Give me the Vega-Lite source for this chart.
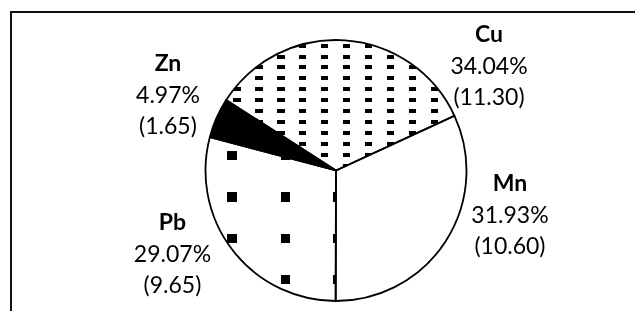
{
  "$schema": "https://vega.github.io/schema/vega-lite/v6.json",
  "width": 650,
  "height": 317,
  "autosize": "none",
  "padding": {"left": 11, "top": 12, "right": -26, "bottom": -18},
  "background": "white",
  "view": {"stroke": "#111111", "strokeWidth": 2, "fill": "white"},
  "config": {"view": {"stroke": "#111111", "strokeWidth": 2}},
  "data": {"values": [
    {"metal": "Cu", "value": 11.30},
    {"metal": "Mn", "value": 10.60},
    {"metal": "Pb", "value": 9.65},
    {"metal": "Zn", "value": 1.65}
  ]},
  "transform": [
    {"stack": "value", "groupby": [], "sort": [{"field": "value", "order": "descending"}], "as": ["v0", "v1"]},
    {"joinaggregate": [{"op": "sum", "field": "value", "as": "total"}]},
    {"calculate": "(datum.v0 + datum.v1) / 2", "as": "mid"},
    {"calculate": "datum.value / datum.total", "as": "share"},
    {"calculate": "'(' + format(datum.value, '.2f') + ')'", "as": "paren"}
  ],
  "layer": [
    {
      "mark": {"type": "arc", "outerRadius": 130.5},
      "encoding": {
        "theta": {"field": "v0", "type": "quantitative", "scale": {"domain": [0, 33.2], "range": [-1.00059, 5.2826]}},
        "theta2": {"field": "v1"},
        "fill": {"condition": {"test": "datum.metal === 'Zn'", "value": "black"}, "value": "white"}
      }
    },
    {
      "transform": [{"filter": "datum.metal === 'Cu'"}],
      "mark": {"type": "arc", "outerRadius": 130.5, "fill": {
        "gradient": "linear", "x1": 0, "y1": 0, "x2": 1, "y2": 0,
        "stops": [
          {"offset": 0, "color": "white"},
          {"offset": 0.03065, "color": "white"}, {"offset": 0.03065, "color": "black"}, {"offset": 0.06349, "color": "black"}, {"offset": 0.06349, "color": "white"},
          {"offset": 0.12675, "color": "white"}, {"offset": 0.12675, "color": "black"}, {"offset": 0.15959, "color": "black"}, {"offset": 0.15959, "color": "white"},
          {"offset": 0.22285, "color": "white"}, {"offset": 0.22285, "color": "black"}, {"offset": 0.25569, "color": "black"}, {"offset": 0.25569, "color": "white"},
          {"offset": 0.31896, "color": "white"}, {"offset": 0.31896, "color": "black"}, {"offset": 0.35179, "color": "black"}, {"offset": 0.35179, "color": "white"},
          {"offset": 0.41506, "color": "white"}, {"offset": 0.41506, "color": "black"}, {"offset": 0.44790, "color": "black"}, {"offset": 0.44790, "color": "white"},
          {"offset": 0.51117, "color": "white"}, {"offset": 0.51117, "color": "black"}, {"offset": 0.54401, "color": "black"}, {"offset": 0.54401, "color": "white"},
          {"offset": 0.60727, "color": "white"}, {"offset": 0.60727, "color": "black"}, {"offset": 0.64011, "color": "black"}, {"offset": 0.64011, "color": "white"},
          {"offset": 0.70338, "color": "white"}, {"offset": 0.70338, "color": "black"}, {"offset": 0.73621, "color": "black"}, {"offset": 0.73621, "color": "white"},
          {"offset": 0.79947, "color": "white"}, {"offset": 0.79947, "color": "black"}, {"offset": 0.83231, "color": "black"}, {"offset": 0.83231, "color": "white"},
          {"offset": 0.89558, "color": "white"}, {"offset": 0.89558, "color": "black"}, {"offset": 0.92842, "color": "black"}, {"offset": 0.92842, "color": "white"},
          {"offset": 0.99168, "color": "white"}, {"offset": 0.99168, "color": "black"}, {"offset": 1, "color": "black"}
        ]}},
      "encoding": {
        "theta": {"field": "v0", "type": "quantitative", "scale": {"domain": [0, 33.2], "range": [-1.00059, 5.2826]}},
        "theta2": {"field": "v1"}
      }
    },
    {
      "transform": [{"filter": "datum.metal === 'Cu'"}],
      "mark": {"type": "arc", "outerRadius": 130.5, "blend": "lighten", "fill": {
        "gradient": "linear", "x1": 0, "y1": 0, "x2": 0, "y2": 1,
        "stops": [
          {"offset": 0, "color": "white"},
          {"offset": 0.02835, "color": "white"}, {"offset": 0.02835, "color": "black"}, {"offset": 0.05900, "color": "black"}, {"offset": 0.05900, "color": "white"},
          {"offset": 0.11188, "color": "white"}, {"offset": 0.11188, "color": "black"}, {"offset": 0.14253, "color": "black"}, {"offset": 0.14253, "color": "white"},
          {"offset": 0.19540, "color": "white"}, {"offset": 0.19540, "color": "black"}, {"offset": 0.22605, "color": "black"}, {"offset": 0.22605, "color": "white"},
          {"offset": 0.27893, "color": "white"}, {"offset": 0.27893, "color": "black"}, {"offset": 0.30958, "color": "black"}, {"offset": 0.30958, "color": "white"},
          {"offset": 0.36245, "color": "white"}, {"offset": 0.36245, "color": "black"}, {"offset": 0.39310, "color": "black"}, {"offset": 0.39310, "color": "white"},
          {"offset": 0.44598, "color": "white"}, {"offset": 0.44598, "color": "black"}, {"offset": 0.47663, "color": "black"}, {"offset": 0.47663, "color": "white"},
          {"offset": 0.52950, "color": "white"}, {"offset": 0.52950, "color": "black"}, {"offset": 0.56015, "color": "black"}, {"offset": 0.56015, "color": "white"},
          {"offset": 0.61303, "color": "white"}, {"offset": 0.61303, "color": "black"}, {"offset": 0.64368, "color": "black"}, {"offset": 0.64368, "color": "white"},
          {"offset": 0.69655, "color": "white"}, {"offset": 0.69655, "color": "black"}, {"offset": 0.72720, "color": "black"}, {"offset": 0.72720, "color": "white"},
          {"offset": 0.78008, "color": "white"}, {"offset": 0.78008, "color": "black"}, {"offset": 0.81073, "color": "black"}, {"offset": 0.81073, "color": "white"},
          {"offset": 0.86360, "color": "white"}, {"offset": 0.86360, "color": "black"}, {"offset": 0.89425, "color": "black"}, {"offset": 0.89425, "color": "white"},
          {"offset": 0.94713, "color": "white"}, {"offset": 0.94713, "color": "black"}, {"offset": 0.97778, "color": "black"}, {"offset": 0.97778, "color": "white"},
          {"offset": 1, "color": "white"}
        ]}},
      "encoding": {
        "theta": {"field": "v0", "type": "quantitative", "scale": {"domain": [0, 33.2], "range": [-1.00059, 5.2826]}},
        "theta2": {"field": "v1"}
      }
    },
    {
      "transform": [{"filter": "datum.metal === 'Pb'"}],
      "mark": {"type": "arc", "outerRadius": 130.5, "fill": {
        "gradient": "linear", "x1": 0, "y1": 0, "x2": 1, "y2": 0,
        "stops": [
          {"offset": 0, "color": "white"},
          {"offset": 0.16705, "color": "white"}, {"offset": 0.16705, "color": "black"}, {"offset": 0.23908, "color": "black"}, {"offset": 0.23908, "color": "white"},
          {"offset": 0.57548, "color": "white"}, {"offset": 0.57548, "color": "black"}, {"offset": 0.64751, "color": "black"}, {"offset": 0.64751, "color": "white"},
          {"offset": 0.97778, "color": "white"}, {"offset": 0.97778, "color": "black"}, {"offset": 1, "color": "black"}
        ]}},
      "encoding": {
        "theta": {"field": "v0", "type": "quantitative", "scale": {"domain": [0, 33.2], "range": [-1.00059, 5.2826]}},
        "theta2": {"field": "v1"}
      }
    },
    {
      "transform": [{"filter": "datum.metal === 'Pb'"}],
      "mark": {"type": "arc", "outerRadius": 130.5, "blend": "lighten", "fill": {
        "gradient": "linear", "x1": 0, "y1": 0, "x2": 0, "y2": 1,
        "stops": [
          {"offset": 0, "color": "white"},
          {"offset": 0.08425, "color": "white"}, {"offset": 0.08425, "color": "black"}, {"offset": 0.14164, "color": "black"}, {"offset": 0.14164, "color": "white"},
          {"offset": 0.33578, "color": "white"}, {"offset": 0.33578, "color": "black"}, {"offset": 0.39316, "color": "black"}, {"offset": 0.39316, "color": "white"},
          {"offset": 0.58791, "color": "white"}, {"offset": 0.58791, "color": "black"}, {"offset": 0.64530, "color": "black"}, {"offset": 0.64530, "color": "white"},
          {"offset": 0.83883, "color": "white"}, {"offset": 0.83883, "color": "black"}, {"offset": 0.89621, "color": "black"}, {"offset": 0.89621, "color": "white"},
          {"offset": 1, "color": "white"}
        ]}},
      "encoding": {
        "theta": {"field": "v0", "type": "quantitative", "scale": {"domain": [0, 33.2], "range": [-1.00059, 5.2826]}},
        "theta2": {"field": "v1"}
      }
    },
    {
      "mark": {"type": "arc", "outerRadius": 130.5, "fill": "transparent", "stroke": "black", "strokeWidth": 1.8},
      "encoding": {
        "theta": {"field": "v0", "type": "quantitative", "scale": {"domain": [0, 33.2], "range": [-1.00059, 5.2826]}},
        "theta2": {"field": "v1"}
      }
    },
    {
      "mark": {"type": "text", "radius": 150, "font": "Lato", "fontSize": 23, "fontWeight": "bold", "color": "black", "align": "center", "baseline": "alphabetic",
        "dx": {"expr": "datum.metal === 'Cu' ? 142.7 : datum.metal === 'Mn' ? 47.7 : datum.metal === 'Pb' ? -44.6 : -30.7"},
        "dy": {"expr": "(datum.metal === 'Cu' ? 53.1 : datum.metal === 'Mn' ? -28 : datum.metal === 'Pb' ? 0.1 : -6.8) - 32"}},
      "encoding": {
        "theta": {"field": "mid", "type": "quantitative", "stack": null, "scale": {"domain": [0, 33.2], "range": [-1.00059, 5.2826]}},
        "text": {"field": "metal"}
      }
    },
    {
      "mark": {"type": "text", "radius": 150, "font": "Lato", "fontSize": 23, "color": "black", "align": "center", "baseline": "alphabetic",
        "dx": {"expr": "datum.metal === 'Cu' ? 142.7 : datum.metal === 'Mn' ? 47.7 : datum.metal === 'Pb' ? -44.6 : -30.7"},
        "dy": {"expr": "datum.metal === 'Cu' ? 53.1 : datum.metal === 'Mn' ? -28 : datum.metal === 'Pb' ? 0.1 : -6.8"}},
      "encoding": {
        "theta": {"field": "mid", "type": "quantitative", "stack": null, "scale": {"domain": [0, 33.2], "range": [-1.00059, 5.2826]}},
        "text": {"field": "share", "type": "quantitative", "format": ".2%"}
      }
    },
    {
      "mark": {"type": "text", "radius": 150, "font": "Lato", "fontSize": 23, "color": "black", "align": "center", "baseline": "alphabetic",
        "dx": {"expr": "datum.metal === 'Cu' ? 142.7 : datum.metal === 'Mn' ? 47.7 : datum.metal === 'Pb' ? -44.6 : -30.7"},
        "dy": {"expr": "(datum.metal === 'Cu' ? 53.1 : datum.metal === 'Mn' ? -28 : datum.metal === 'Pb' ? 0.1 : -6.8) + 31"}},
      "encoding": {
        "theta": {"field": "mid", "type": "quantitative", "stack": null, "scale": {"domain": [0, 33.2], "range": [-1.00059, 5.2826]}},
        "text": {"field": "paren"}
      }
    }
  ]
}
